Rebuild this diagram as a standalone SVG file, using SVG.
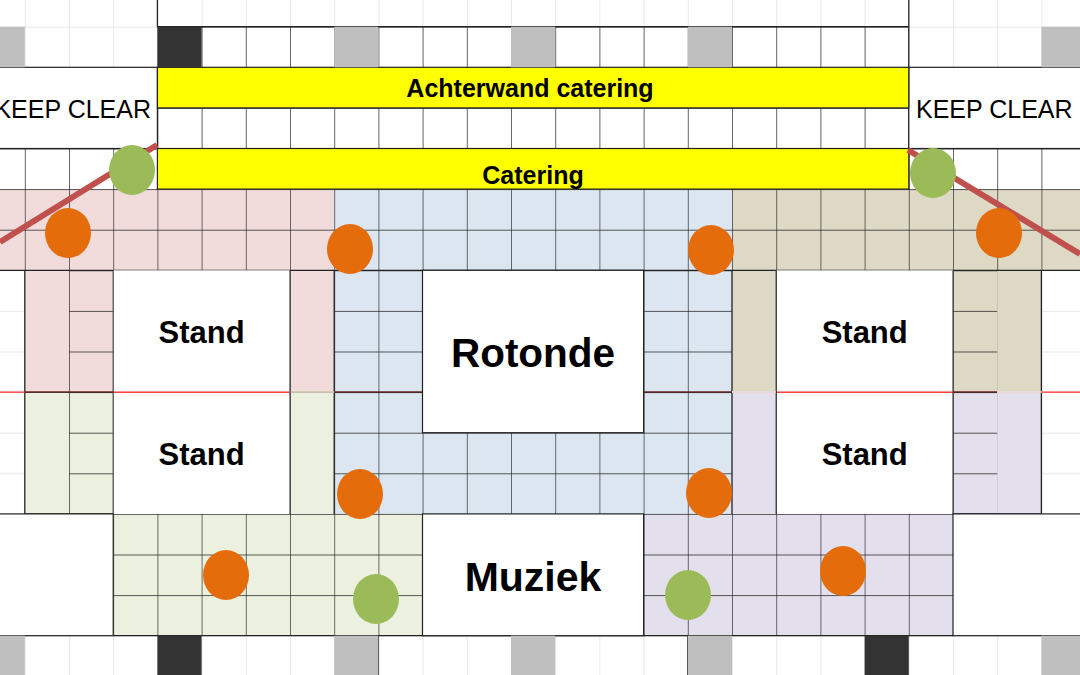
<svg xmlns="http://www.w3.org/2000/svg" width="1080" height="675" viewBox="0 0 1080 675">
<style>
.t{font-family:"Liberation Sans",Arial,sans-serif;font-weight:bold;fill:#000;text-anchor:middle}
.kc{font-family:"Liberation Sans",Arial,sans-serif;font-size:25px;fill:#000}
.box{fill:#fff;stroke:#222;stroke-width:1.2}
.g{fill:#9bbb59}.o{fill:#e46c0a}
.grey{fill:#bfbfbf}.dark{fill:#333}
.bl{fill:url(#blk)}
</style>
<defs>
<pattern id="lt" patternUnits="userSpaceOnUse" x="24.8" y="26.7" width="44.2" height="40.6"><path d="M0 0H44.2M0 0V40.6" stroke="#e2e2e2" stroke-width="1.5" fill="none"/></pattern>
<pattern id="blk" patternUnits="userSpaceOnUse" x="24.8" y="26.7" width="44.2" height="40.6"><path d="M0 0H44.2M0 0V40.6" stroke="#222" stroke-width="1.3" fill="none"/></pattern>
</defs>
<rect width="1080" height="675" fill="#fff"/>
<rect width="1080" height="675" fill="url(#lt)"/>
<g id="zones">
<rect x="0" y="189.1" width="334.2" height="81.2" fill="#f2dcdb"/>
<rect x="24.8" y="270.3" width="88.4" height="121.8" fill="#f2dcdb"/>
<rect x="290" y="270.3" width="44.2" height="121.8" fill="#f2dcdb"/>
<rect x="24.8" y="392.1" width="88.4" height="121.8" fill="#ebf1de"/>
<rect x="290" y="392.1" width="44.2" height="121.8" fill="#ebf1de"/>
<rect x="113.2" y="513.9" width="309.3" height="121.8" fill="#ebf1de"/>
<rect x="334.2" y="189.1" width="397.8" height="324.8" fill="#dce6f1"/>
<rect x="732" y="189.1" width="348" height="81.2" fill="#ddd9c4"/>
<rect x="732" y="270.3" width="44.4" height="121.8" fill="#ddd9c4"/>
<rect x="953" y="270.3" width="88.4" height="121.8" fill="#ddd9c4"/>
<rect x="732" y="392.1" width="44.4" height="121.8" fill="#e4dfec"/>
<rect x="953" y="392.1" width="88.4" height="121.8" fill="#e4dfec"/>
<rect x="643.6" y="513.9" width="309.4" height="121.8" fill="#e4dfec"/>
</g>
<g id="grid">
<rect class="bl" x="157.4" y="26.7" width="751.4" height="40.6"/>
<rect class="bl" x="157.4" y="107.9" width="751.4" height="40.6"/>
<rect class="bl" x="0" y="148.5" width="1080" height="121.8"/>
<rect class="bl" x="69" y="270.3" width="44.2" height="243.6"/>
<rect class="bl" x="953" y="270.3" width="44.2" height="243.6"/>
<rect class="bl" x="334.2" y="270.3" width="397.8" height="243.6"/>
<rect class="bl" x="113.2" y="513.9" width="839.8" height="121.8"/>
<path d="M157.4 0V26.7H908.8V0M908.8 26.7V148.5M0 270.3H1080M24.8 270.3V513.9H113.2M1041.4 270.3V513.9H953M290 270.3V513.9M334.2 270.3V513.9M732 270.3V513.9M776.4 270.3V513.9M113.2 635.7H953M378.4 635.7V675M687.8 635.7V675" stroke="#222" stroke-width="1.3" fill="none"/>
</g>
<line x1="0" y1="392.1" x2="1080" y2="392.1" stroke="#ff2a2a" stroke-width="1.3"/>
<path d="M24.8 392.1H113.2M290 392.1H334.2M334.2 392.1H732M953 392.1H997.2" stroke="#222" stroke-width="1.3"/>
<path d="M290 392.1H334.2M732 392.1H776.4M997.2 392.1H1041.4" stroke="#ebf1de" stroke-width="1.5"/>
<path d="M732 392.1H776.4M997.2 392.1H1041.4" stroke="#e4dfec" stroke-width="1.5"/>
<g id="stand-lt"><rect x="113.2" y="270.3" width="176.8" height="121.8" fill="#fff"/><text class="t" x="201.6" y="343" font-size="31">Stand</text></g>
<g id="stand-lb"><rect x="113.2" y="392.8" width="176.8" height="121.1" fill="#fff"/><text class="t" x="201.6" y="465" font-size="31">Stand</text></g>
<g id="stand-rt"><rect x="776.4" y="270.3" width="176.6" height="121.8" fill="#fff"/><text class="t" x="864.7" y="343" font-size="31">Stand</text></g>
<g id="stand-rb"><rect x="776.4" y="392.8" width="176.6" height="121.1" fill="#fff"/><text class="t" x="864.7" y="465" font-size="31">Stand</text></g>
<line x1="113.2" y1="392.1" x2="290" y2="392.1" stroke="#ff2a2a" stroke-width="1.3"/>
<line x1="776.4" y1="392.1" x2="953" y2="392.1" stroke="#ff2a2a" stroke-width="1.3"/>
<path d="M113.2 270.3V513.9M290 270.3V513.9M776.4 270.3V513.9M953 270.3V513.9" stroke="#444" stroke-width="1.2"/>
<g id="rotonde"><rect class="box" x="422.5" y="270.3" width="221.1" height="162.4"/><text class="t" x="533" y="367" font-size="40.5">Rotonde</text></g>
<g id="muziek"><rect class="box" x="422.5" y="513.9" width="221.1" height="121.8"/><text class="t" x="533" y="591" font-size="41">Muziek</text></g>
<rect class="box" x="-2" y="513.9" width="115.2" height="121.8"/>
<rect class="box" x="953" y="513.9" width="130" height="121.8"/>
<g id="kc-left"><rect class="box" x="-2" y="67.3" width="159.4" height="81.2"/><text class="kc" x="151" y="118" text-anchor="end">KEEP CLEAR</text></g>
<g id="kc-right"><rect class="box" x="908.8" y="67.3" width="175" height="81.2"/><text class="kc" x="916" y="118">KEEP CLEAR</text></g>
<g id="achterwand"><rect x="157.4" y="67.3" width="751.4" height="40.6" fill="#ffff00" stroke="#222" stroke-width="1.2"/><text class="t" x="530" y="97" font-size="25">Achterwand catering</text></g>
<g id="catering"><rect x="157.4" y="148.5" width="751.4" height="40.6" fill="#ffff00" stroke="#222" stroke-width="1.2"/><text class="t" x="533" y="184" font-size="25">Catering</text></g>
<g id="columns">
<rect class="grey" x="0" y="26.7" width="24.8" height="40.6"/>
<rect class="dark" x="157.4" y="26.7" width="44.2" height="40.6"/>
<rect class="grey" x="334.2" y="26.7" width="44.2" height="40.6"/>
<rect class="grey" x="511" y="26.7" width="44.2" height="40.6"/>
<rect class="grey" x="687.8" y="26.7" width="44.2" height="40.6"/>
<rect class="grey" x="1041.4" y="26.7" width="38.6" height="40.6"/>
<rect class="grey" x="0" y="635.7" width="24.8" height="40"/>
<rect class="dark" x="157.4" y="635.7" width="44.2" height="40"/>
<rect class="grey" x="334.2" y="635.7" width="44.2" height="40"/>
<rect class="grey" x="511" y="635.7" width="44.2" height="40"/>
<rect class="grey" x="687.8" y="635.7" width="44.2" height="40"/>
<rect class="dark" x="864.6" y="635.7" width="44.2" height="40"/>
<rect class="grey" x="1041.4" y="635.7" width="38.6" height="40"/>
</g>
<g id="connectors" stroke="#c0504d" stroke-width="6">
<line x1="157" y1="145" x2="0" y2="242"/>
<line x1="908" y1="150" x2="1080" y2="254"/>
</g>
<g id="points">
<ellipse class="g" cx="132" cy="170" rx="23" ry="25"/>
<ellipse class="g" cx="933" cy="173" rx="23" ry="25"/>
<ellipse class="g" cx="376" cy="599" rx="23" ry="25"/>
<ellipse class="g" cx="688" cy="595" rx="23" ry="25"/>
<ellipse class="o" cx="68" cy="233" rx="23" ry="25"/>
<ellipse class="o" cx="350" cy="249" rx="23" ry="25"/>
<ellipse class="o" cx="711" cy="250" rx="23" ry="25"/>
<ellipse class="o" cx="999" cy="233" rx="23" ry="25"/>
<ellipse class="o" cx="360" cy="494" rx="23" ry="25"/>
<ellipse class="o" cx="709" cy="493" rx="23" ry="25"/>
<ellipse class="o" cx="226" cy="575" rx="23" ry="25"/>
<ellipse class="o" cx="843" cy="571" rx="23" ry="25"/>
</g>
</svg>
